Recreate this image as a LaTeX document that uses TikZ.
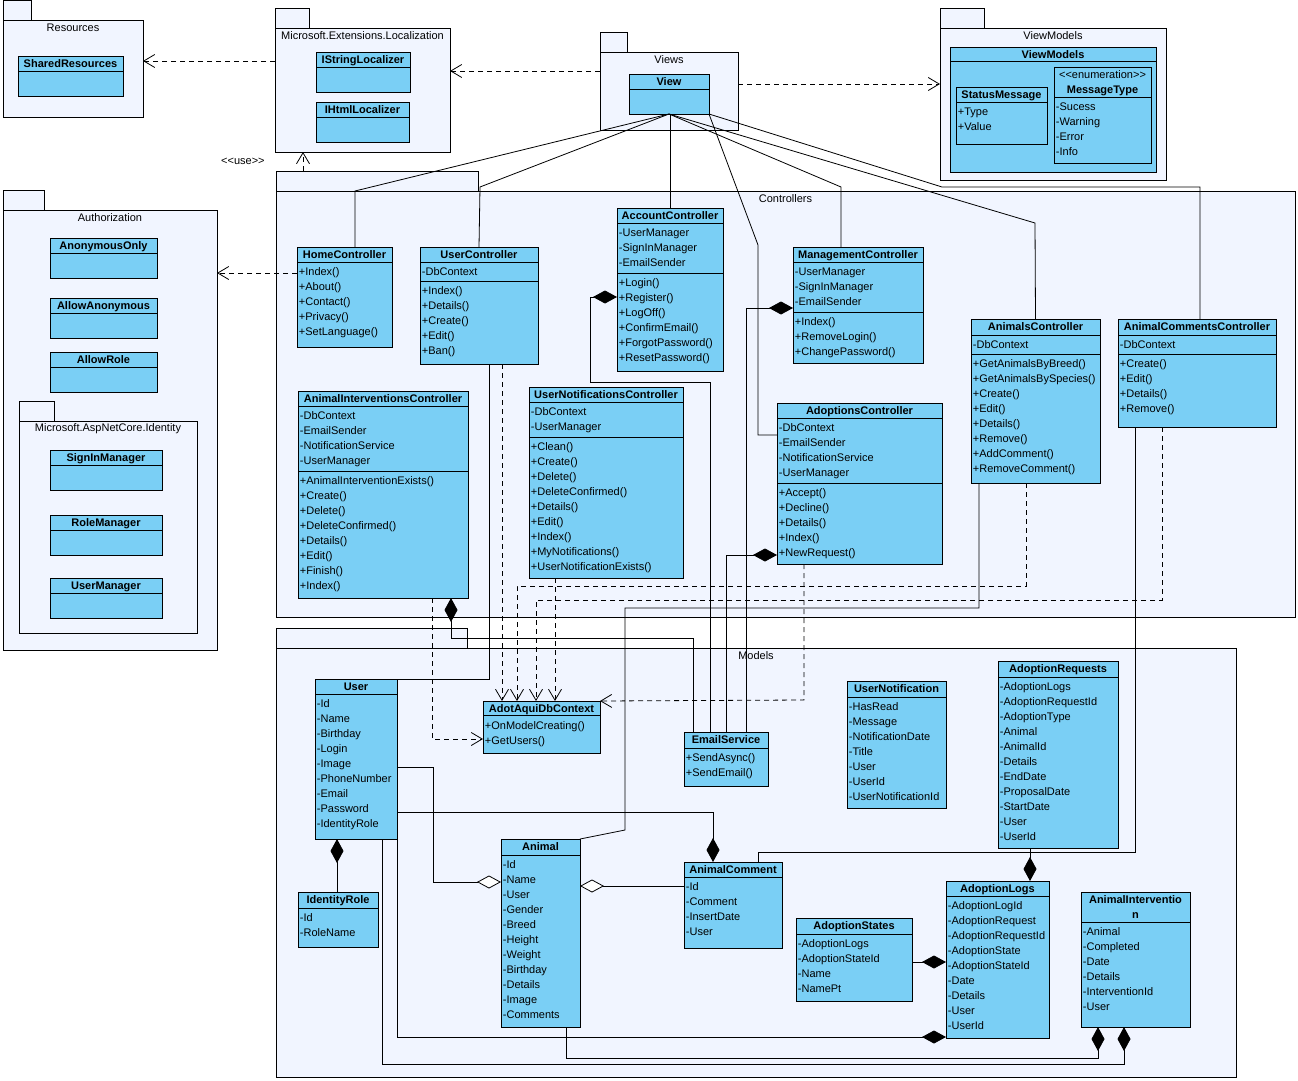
\documentclass[tikz,border=0pt]{standalone}
\usepackage{fontspec}
\setmainfont{Liberation Sans}
\usetikzlibrary{arrows.meta}
\definecolor{classblue}{RGB}{122,207,245}
\definecolor{pkgblue}{RGB}{241,245,255}
\newcommand{\umlpackage}[7]{%
  \node[pkgtab, minimum width={(#6-#2)*1pt}, minimum height=20pt] (#1-tab) at (#2,#3) {};
  \node[pkgbody, minimum width={(#4-#2)*1pt}, minimum height={(#5-#3)*1pt}] (#1) at (#2,#3) {};
  \node[pkglabel] (#1-label) at ([yshift=-8pt]#1.north) {#7};}
\newcommand{\umlclass}[7][15]{%
  \node[umlbox, minimum width={(#5-#3)*1pt}, minimum height={(#6-#4)*1pt}] (#2) at (#3,#4) {};
  \node[umltitle] (#2-title) at ([yshift=-1pt]#2.north) {\strut #7};
  \draw ([yshift=-#1pt]#2.north west) -- ([yshift=-#1pt]#2.north east);}
\newcommand{\umlsep}[2]{\draw ([yshift=-#2pt]#1.north west) -- ([yshift=-#2pt]#1.north east);}
\newcommand{\umlmembers}[4]{\node[umlmember] (#1-#2) at ([xshift=1.5pt,yshift={-(#3+2.5)*1pt}]#1.north west) {\strut #4};}
\begin{document}
\begin{tikzpicture}[x=1pt,y=-1pt,line width=0.8pt,
  umlbox/.style={draw, fill=classblue, inner sep=0pt, outer sep=0pt, anchor=north west},
  umltitle/.style={anchor=north, inner sep=0pt, align=center, font=\fontsize{11}{15}\selectfont\bfseries},
  umlmember/.style={anchor=north west, inner sep=0pt, align=left, font=\fontsize{11}{15}\selectfont},
  pkgbody/.style={draw, fill=pkgblue, inner sep=0pt, outer sep=0pt, anchor=north west},
  pkgtab/.style={draw, fill=pkgblue, inner sep=0pt, outer sep=0pt, anchor=south west},
  pkglabel/.style={inner sep=0pt, font=\fontsize{11}{15}\selectfont},
  dep/.style={dash pattern=on 5pt off 4pt, -{Straight Barb[length=11pt,width=13pt]}},
  comp/.style={-{Diamond[length=24pt,width=13pt]}},
  aggr/.style={-{Diamond[fill=white,length=24pt,width=13pt]}}]
\useasboundingbox (0,0) rectangle (1298,1081);

\umlpackage{pkgres}{3}{20}{143}{117}{31}{Resources}
\umlpackage{pkgloc}{275}{28}{450}{152}{309}{Microsoft.Extensions.Localization}
\umlpackage{pkgviews}{600}{52}{738}{130}{627}{Views}
\umlpackage{pkgvm}{940}{28}{1166}{180}{984}{ViewModels}
\umlpackage{pkgauth}{3}{210}{217}{650}{44}{Authorization}
\umlpackage{pkgident}{19}{421}{197}{633}{54}{Microsoft.AspNetCore.Identity}
\umlpackage{pkgctl}{276}{191}{1295}{617}{478}{Controllers}
\umlpackage{pkgmodels}{276}{648}{1236}{1077}{467}{Models}

\umlclass{sharedres}{18}{56}{123}{96}{SharedResources}
\umlclass{istringloc}{316}{52}{410}{92}{IStringLocalizer}
\umlclass{ihtmlloc}{316}{102}{409}{142}{IHtmlLocalizer}
\umlclass{view}{629}{74}{709}{114}{View}
\umlclass[14]{vmclass}{950}{47}{1156}{172}{ViewModels}
\umlclass{statusmsg}{956}{87}{1047}{144}{StatusMessage}
\umlmembers{statusmsg}{attrs}{15}{+Type\\+Value}
\umlclass[30]{msgtype}{1054}{67}{1151}{163}{\textmd{<\kern0pt<enumeration>\kern0pt>}\\MessageType}
\umlmembers{msgtype}{attrs}{30}{-Sucess\\-Warning\\-Error\\-Info}

\umlclass{anononly}{50}{238}{157}{278}{AnonymousOnly}
\umlclass{allowanon}{50}{298}{157}{338}{AllowAnonymous}
\umlclass{allowrole}{50}{352}{157}{392}{AllowRole}
\umlclass{signinmgr}{50}{450}{162}{490}{SignInManager}
\umlclass{rolemgr}{50}{515}{162}{555}{RoleManager}
\umlclass{usermgr}{50}{578}{162}{618}{UserManager}

\umlclass{homectl}{297}{247}{392}{347}{HomeController}
\umlmembers{homectl}{ops}{15}{+Index()\\+About()\\+Contact()\\+Privacy()\\+SetLanguage()}
\umlclass{userctl}{420}{247}{538}{364}{UserController}
\umlmembers{userctl}{attrs}{15}{-DbContext}
\umlsep{userctl}{34}
\umlmembers{userctl}{ops}{34}{+Index()\\+Details()\\+Create()\\+Edit()\\+Ban()}
\umlclass{accountctl}{617}{208}{723}{371}{AccountController}
\umlmembers{accountctl}{attrs}{15}{-UserManager\\-SignInManager\\-EmailSender}
\umlsep{accountctl}{65}
\umlmembers{accountctl}{ops}{65}{+Login()\\+Register()\\+LogOff()\\+ConfirmEmail()\\+ForgotPassword()\\+ResetPassword()}
\umlclass{mgmtctl}{793}{247}{923}{363}{ManagementController}
\umlmembers{mgmtctl}{attrs}{15}{-UserManager\\-SignInManager\\-EmailSender}
\umlsep{mgmtctl}{65}
\umlmembers{mgmtctl}{ops}{65}{+Index()\\+RemoveLogin()\\+ChangePassword()}
\umlclass{aictl}{298}{391}{468}{598}{AnimalInterventionsController}
\umlmembers{aictl}{attrs}{15}{-DbContext\\-EmailSender\\-NotificationService\\-UserManager}
\umlsep{aictl}{80}
\umlmembers{aictl}{ops}{80}{+AnimalInterventionExists()\\+Create()\\+Delete()\\+DeleteConfirmed()\\+Details()\\+Edit()\\+Finish()\\+Index()}
\umlclass{unctl}{529}{387}{683}{578}{UserNotificationsController}
\umlmembers{unctl}{attrs}{15}{-DbContext\\-UserManager}
\umlsep{unctl}{50}
\umlmembers{unctl}{ops}{50}{+Clean()\\+Create()\\+Delete()\\+DeleteConfirmed()\\+Details()\\+Edit()\\+Index()\\+MyNotifications()\\+UserNotificationExists()}
\umlclass{adoptctl}{777}{403}{942}{564}{AdoptionsController}
\umlmembers{adoptctl}{attrs}{15}{-DbContext\\-EmailSender\\-NotificationService\\-UserManager}
\umlsep{adoptctl}{80}
\umlmembers{adoptctl}{ops}{80}{+Accept()\\+Decline()\\+Details()\\+Index()\\+NewRequest()}
\umlclass[16]{animalsctl}{971}{319}{1100}{483}{AnimalsController}
\umlmembers{animalsctl}{attrs}{16}{-DbContext}
\umlsep{animalsctl}{35}
\umlmembers{animalsctl}{ops}{35}{+GetAnimalsByBreed()\\+GetAnimalsBySpecies()\\+Create()\\+Edit()\\+Details()\\+Remove()\\+AddComment()\\+RemoveComment()}
\umlclass[16]{acctl}{1118}{319}{1276}{427}{AnimalCommentsController}
\umlmembers{acctl}{attrs}{16}{-DbContext}
\umlsep{acctl}{35}
\umlmembers{acctl}{ops}{35}{+Create()\\+Edit()\\+Details()\\+Remove()}

\umlclass{user}{315}{679}{397}{839}{User}
\umlmembers{user}{attrs}{15}{-Id\\-Name\\-Birthday\\-Login\\-Image\\-PhoneNumber\\-Email\\-Password\\-IdentityRole}
\umlclass[16]{identityrole}{298}{892}{378}{947}{IdentityRole}
\umlmembers{identityrole}{attrs}{16}{-Id\\-RoleName}
\umlclass[14]{dbcontext}{483}{701}{600}{753}{AdotAquiDbContext}
\umlmembers{dbcontext}{ops}{15}{+OnModelCreating()\\+GetUsers()}
\umlclass[16]{emailsvc}{684}{732}{768}{786}{EmailService}
\umlmembers{emailsvc}{ops}{16}{+SendAsync()\\+SendEmail()}
\umlclass[16]{usernotif}{847}{681}{946}{808}{UserNotification}
\umlmembers{usernotif}{attrs}{16}{-HasRead\\-Message\\-NotificationDate\\-Title\\-User\\-UserId\\-UserNotificationId}
\umlclass[16]{adoptreq}{998}{661}{1118}{848}{AdoptionRequests}
\umlmembers{adoptreq}{attrs}{16}{-AdoptionLogs\\-AdoptionRequestId\\-AdoptionType\\-Animal\\-AnimalId\\-Details\\-EndDate\\-ProposalDate\\-StartDate\\-User\\-UserId}
\umlclass[16]{animal}{501}{839}{580}{1027}{Animal}
\umlmembers{animal}{attrs}{16}{-Id\\-Name\\-User\\-Gender\\-Breed\\-Height\\-Weight\\-Birthday\\-Details\\-Image\\-Comments}
\umlclass{animalcomment}{684}{862}{782}{948}{AnimalComment}
\umlmembers{animalcomment}{attrs}{15}{-Id\\-Comment\\-InsertDate\\-User}
\umlclass[16]{adoptstates}{796}{918}{912}{1001}{AdoptionStates}
\umlmembers{adoptstates}{attrs}{16}{-AdoptionLogs\\-AdoptionStateId\\-Name\\-NamePt}
\umlclass{adoptlogs}{946}{881}{1049}{1038}{AdoptionLogs}
\umlmembers{adoptlogs}{attrs}{15}{-AdoptionLogId\\-AdoptionRequest\\-AdoptionRequestId\\-AdoptionState\\-AdoptionStateId\\-Date\\-Details\\-User\\-UserId}
\umlclass[30]{animalint}{1081}{892}{1190}{1027}{AnimalInterventio\\n}
\umlmembers{animalint}{attrs}{30}{-Animal\\-Completed\\-Date\\-Details\\-InterventionId\\-User}

\draw[dep] (pkgloc.west |- 0,61) -- (pkgres.east |- 0,61);
\draw[dep] (pkgviews.west |- 0,71) -- (pkgloc.east |- 0,71);
\draw[dep] (pkgviews.east |- 0,84) -- (pkgvm.west |- 0,84);
\draw[dep] (pkgctl-tab.north -| 303,0) -- node[left=38pt, inner sep=0pt, font=\fontsize{11}{15}\selectfont] {<\kern0pt<use>\kern0pt>} (pkgloc.south -| 303,0);
\draw[dep] (homectl.west |- 0,273) -- (pkgauth.east |- 0,273);
\draw[dep] (aictl.south -| 432,0) -- (432,739) -- (dbcontext.west |- 0,739);
\draw[dep] (userctl.south -| 502,0) -- (dbcontext.north -| 502,0);
\draw[dep] (animalsctl.south -| 1026,0) -- (1026,586) -- (517,586) -- (dbcontext.north -| 517,0);
\draw[dep] (acctl.south -| 1162,0) -- (1162,600) -- (536,600) -- (dbcontext.north -| 536,0);
\draw[dep] (unctl.south -| 555,0) -- (dbcontext.north -| 555,0);
\draw[dep] (adoptctl.south -| 804,0) -- (804,700) -- (dbcontext.north east);

\draw (view.south) -- (355,191) -- (homectl.north -| 355,0);
\draw (view.south) -- (480,187) -- (userctl.north);
\draw (view.south -| accountctl.north) -- (accountctl.north);
\draw (view.south) -- (841,187) -- (mgmtctl.north -| 841,0);
\draw (view.south) -- (1035,223) -- (animalsctl.north);
\draw (view.south east) -- (758,245) -- (758,435) -- (adoptctl.west |- 0,435);
\draw (view.south east) -- (942,187) -- (1200,187) -- (acctl.north -| 1200,0);

\draw[comp] (emailsvc.north -| 710,0) -- (710,382) -- (590,382) -- (590,297) -- (accountctl.west |- 0,297);
\draw[comp] (emailsvc.north -| 746,0) -- (746,308) -- (mgmtctl.west |- 0,308);
\draw[comp] (emailsvc.north -| 726,0) -- (726,555) -- (adoptctl.west |- 0,555);
\draw[comp] (emailsvc.north -| 693,0) -- (693,638) -- (451,638) -- (aictl.south -| 451,0);
\draw[comp] (identityrole.north -| 337,0) -- (user.south -| 337,0);
\draw[comp] (user.east |- 0,812) -- (713,812) -- (animalcomment.north -| 713,0);
\draw[comp] (adoptreq.south -| 1030,0) -- (adoptlogs.north -| 1030,0);
\draw[comp] (adoptstates.east |- 0,962) -- (adoptlogs.west |- 0,962);
\draw[comp] (user.south east) -- (397,1037) -- (adoptlogs.west |- 0,1037);
\draw[comp] (animal.south -| 566,0) -- (566,1058) -- (1098,1058) -- (animalint.south -| 1098,0);
\draw[comp] (user.south -| 382,0) -- (382,1064) -- (1124,1064) -- (animalint.south -| 1124,0);

\draw[aggr] (user.east |- 0,767) -- (433,767) -- (433,882) -- (animal.west |- 0,882);
\draw[aggr] (animalcomment.west |- 0,886) -- (animal.east |- 0,886);

\draw (userctl.south -| 489,0) -- (489,679) -- (user.north east);
\draw (animalsctl.south -| 979,0) -- (979,608) -- (625,608) -- (625,830) -- (animal.north east);
\draw (acctl.south -| 1135,0) -- (1135,852) -- (758,852) -- (animalcomment.north -| 758,0);
\end{tikzpicture}
\end{document}
